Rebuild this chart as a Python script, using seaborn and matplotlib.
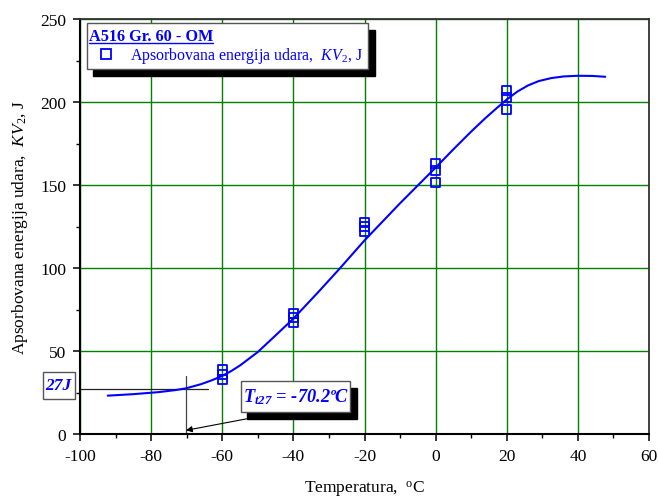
import numpy as np
import pandas as pd
import matplotlib
matplotlib.use("Agg")
import matplotlib.pyplot as plt
import seaborn as sns
from matplotlib.patches import Rectangle
from matplotlib.lines import Line2D
from matplotlib.ticker import MultipleLocator

# ---------------- data ----------------
temps = [-60, -60, -60, -40, -40, -40, -20, -20, -20, 0, 0, 0, 20, 20, 20]
energy = [38.5, 36.0, 33.0, 72.5, 70.0, 67.0, 127.5, 125.0, 122.3,
          163.0, 158.5, 151.5, 207.0, 202.5, 195.5]

curve_t = [-92.2, -85.0, -78.0, -73.0, -70.2, -66.0, -63.0, -60.0, -57.5, -55.0,
           -50.0, -45.5, -40.0, -33.0, -27.0, -20.0, -10.0, 0.0, 5.0, 10.0,
           14.0, 17.0, 20.0, 23.0, 26.0, 29.0, 32.5, 36.0, 40.0, 44.0, 47.7]
curve_kv = [23.1, 24.0, 25.2, 26.5, 27.5, 30.0, 32.3, 35.0, 37.9, 41.3,
            49.4, 58.4, 69.5, 85.5, 99.6, 116.6, 139.0, 160.5, 171.5, 182.2,
            190.3, 196.0, 201.5, 206.3, 210.0, 212.6, 214.4, 215.4, 215.8, 215.7, 215.2]

x_ticks = [-100, -80, -60, -40, -20, 0, 20, 40, 60]
y_ticks = [0, 50, 100, 150, 200, 250]

t27 = -70.2
kv27 = 27
legend_title = "A516 Gr. 60 - OM"
legend_label = r"Apsorbovana energija udara,  $KV_{\mathrm{2}}$, J"
t27_label = r"$\mathbf{T}_{\mathbf{t27}}$ = -70.2ºC"
kv27_label = "27J"

# ---------------- style ----------------
sns.set_theme(style="white")
plt.rcParams["font.family"] = ["Liberation Serif", "DejaVu Serif"]
plt.rcParams["axes.unicode_minus"] = False
plt.rcParams["mathtext.fontset"] = "custom"
plt.rcParams["mathtext.rm"] = "Liberation Serif"
plt.rcParams["mathtext.it"] = "Liberation Serif:italic"
plt.rcParams["mathtext.bf"] = "Liberation Serif:bold:italic"

W, H = 658, 502
fig = plt.figure(figsize=(W / 100, H / 100), dpi=100)
fig.patch.set_facecolor("white")

def fx(px):
    return px / W

def fy(py):
    return 1 - py / H

ax_l, ax_r, ax_t, ax_b = 80, 649, 20, 435
ax = fig.add_axes([fx(ax_l), fy(ax_b), (ax_r - ax_l) / W, (ax_b - ax_t) / H])
ax.set_facecolor("white")

sns.lineplot(x=curve_t, y=curve_kv, ax=ax, color="blue", lw=1.5, sort=False,
             estimator=None, zorder=3)
sns.scatterplot(x=temps, y=energy, ax=ax, marker="s", s=44, facecolor="none",
                edgecolor="blue", linewidth=1.3, zorder=4)

ax.set_xlim(-100, 60)
ax.set_ylim(0, 250)
ax.set_xticks(x_ticks)
ax.set_yticks(y_ticks)
ax.xaxis.set_minor_locator(MultipleLocator(10))
ax.yaxis.set_minor_locator(MultipleLocator(25))
ax.grid(True, which="major", color="#008000", lw=1.0)
ax.set_axisbelow(True)
ax.tick_params(which="major", direction="out", length=5, width=1.1, color="black",
               labelsize=12.5, labelcolor="black", left=True, bottom=True,
               top=False, right=False, pad=5)
ax.tick_params(which="minor", direction="out", length=3, width=1.0, color="black",
               left=True, bottom=True, top=False, right=False)
for s in ["left", "bottom"]:
    ax.spines[s].set_color("black")
    ax.spines[s].set_linewidth(1.5)
for s in ["top", "right"]:
    ax.spines[s].set_color("#333333")
    ax.spines[s].set_linewidth(1.3)

ax.set_xlabel("Temperatura,  $^{\\mathrm{o}}$C", fontsize=12.5, color="black", labelpad=11)
ax.set_ylabel("Apsorbovana energija udara,  $KV_{\\mathrm{2}}$, J", fontsize=12.5,
              color="black", labelpad=7)

# 27 J guide lines
ax.plot([-100, -64], [kv27, kv27], color="#222222", lw=0.9, zorder=2.5, clip_on=False)
ax.plot([t27, t27], [0, 35], color="#444444", lw=0.9, zorder=2.5)
ax.annotate("", xy=(t27, 2.2), xytext=(-53, 9.2),
            arrowprops=dict(arrowstyle="-|>", color="black", lw=0.8,
                            mutation_scale=9, shrinkA=0, shrinkB=0), zorder=2.5)

def box(x0, y0, x1, y1, face="white", edge="#555555", lw=1.0, z=5):
    r = Rectangle((fx(x0), fy(y1)), (x1 - x0) / W, (y1 - y0) / H,
                  transform=fig.transFigure, facecolor=face, edgecolor=edge,
                  lw=lw, zorder=z)
    fig.add_artist(r)

# legend with shadow
box(93, 31, 375, 76.5, face="black", edge="black", z=5)
box(86.7, 24, 368, 69.5, z=6)
title_txt = fig.text(fx(89), fy(40.7), legend_title, color="blue", fontsize=11.7,
                     fontweight="bold", ha="left", va="baseline", zorder=7)
fig.add_artist(Line2D([fx(106.5)], [fy(55)], marker="s", markersize=6.5,
                      markerfacecolor="none", markeredgecolor="blue",
                      markeredgewidth=1.3, linestyle="none",
                      transform=fig.transFigure, zorder=7))
fig.text(fx(129.5), fy(59.5), legend_label, color="blue", fontsize=11.4,
         ha="left", va="baseline", zorder=7)

# T27 box with shadow
box(247, 389, 357, 420, face="black", edge="black", z=5)
box(240.7, 382.3, 350, 413.3, z=6)
fig.text(fx(296), fy(397.5), t27_label, color="blue", fontsize=13.2,
         fontweight="bold", fontstyle="italic", ha="center", va="center", zorder=7)

# 27J box
box(42.7, 373, 75, 400, z=6)
fig.text(fx(58.8), fy(386.5), kv27_label, color="blue", fontsize=12.5,
         fontweight="bold", fontstyle="italic", ha="center", va="center", zorder=7)

# underline for the legend title
fig.canvas.draw()
bb = title_txt.get_window_extent()
uy = H - 43.5
fig.add_artist(Line2D([bb.x0 / W, bb.x1 / W], [uy / H, uy / H], color="blue", lw=1.0,
                      transform=fig.transFigure, zorder=7))

fig.savefig("out.png", dpi=100, facecolor="white")
